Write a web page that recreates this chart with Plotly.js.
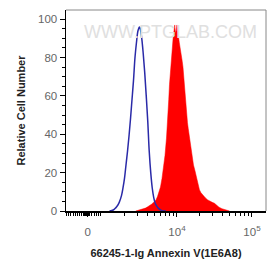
<!DOCTYPE html>
<html><head><meta charset="utf-8">
<script src="https://cdn.plot.ly/plotly-3.0.1.min.js"></script>
<style>html,body{margin:0;padding:0;background:#fff}#c{width:268px;height:259px}</style>
</head><body><div id="c"></div>
<script>
// x positions are in display decades (log10 of intensity; biexponential scale)
const ctrlX = [3.10,3.15,3.18,3.21,3.23,3.26,3.28,3.30,3.32,3.34,3.36,3.38,3.40,3.42,3.44,3.46,3.48,3.50,3.51,3.53,3.55,3.57,3.59,3.61,3.63,3.65,3.67,3.69,3.71,3.73,3.75,3.78,3.80,3.85];
const ctrlY = [0,0.5,1.5,3,4.5,8,12,17,24,31,39,48,58,68,80,88,94,96,95,90,82,72,60,47,31,20,12,7,4,2.5,1.5,0.6,0.2,0];
const annX = [3.45,3.50,3.55,3.58,3.61,3.64,3.66,3.68,3.70,3.72,3.74,3.76,3.78,3.80,3.82,3.84,3.86,3.87,3.88,3.89,3.90,3.91,3.92,3.93,3.94,3.95,3.96,3.97,3.98,3.99,4.00,4.01,4.02,4.03,4.04,4.05,4.06,4.07,4.08,4.09,4.10,4.11,4.12,4.13,4.14,4.15,4.16,4.17,4.18,4.19,4.20,4.22,4.24,4.26,4.28,4.30,4.32,4.35,4.38,4.41,4.44,4.47,4.50,4.53,4.56,4.60,4.65,4.70];
const annY = [0,0.5,1,1.5,2.2,2.8,3.5,4.2,5,5.8,7.5,9.5,12.5,17,22,29,38,43,52,58,66,72,78,83,88,91,94,97,93,94,97,95,91,88,86,83,80,78,75,70,63,57,52,50,46,43,40,37,34,31,28,24,21,17,13,11,9.5,8,6.8,5.8,5,4.5,4,3,2,1.2,0.5,0];
const xTickVals = [2.81,4,5];
const xTickText = ['0','10<sup>4</sup>','10<sup>5</sup>'];
const yTickVals = [0,20,40,60,80,100];

// minor tick positions on the biexponential axis
const minorX = [];
for (let p = 2.53; p < 3.0; p += 0.028) minorX.push(+p.toFixed(3));
[2.76,2.77,2.78,2.79,2.80,2.82,2.83].forEach(v=>minorX.push(v));
for (let d = 3; d <= 4; d++) for (let m = 2; m <= 9; m++) minorX.push(d + Math.log10(m));

const traces = [
  {x: annX, y: annY, type:'scatter', mode:'lines', fill:'tozeroy', fillcolor:'#ff0000',
   line:{color:'#ff0000', width:0.5}, hoverinfo:'skip'},
  {x: ctrlX, y: ctrlY, type:'scatter', mode:'lines', line:{color:'#2a2aa8', width:1.5, shape:'spline'}, hoverinfo:'skip'}
];
const layout = {
  width:268, height:259, margin:{l:66, r:2, t:10, b:48},
  paper_bgcolor:'#fff', plot_bgcolor:'#fff', showlegend:false,
  font:{family:'Arial, Liberation Sans, sans-serif'},
  xaxis:{range:[2.52,5.187], tickmode:'array', tickvals:xTickVals, ticktext:xTickText,
    ticks:'outside', ticklen:4, tickcolor:'#000', tickwidth:1, showgrid:false, zeroline:false,
    showline:true, linecolor:'#000', linewidth:1.5, ticklabelstandoff:6,
    tickfont:{size:11.5, color:'#666'},
    minor:{tickmode:'array', tickvals:minorX, ticks:'outside', ticklen:3, tickcolor:'#000', showgrid:false},
    title:{text:'<b>66245-1-Ig Annexin V(1E6A8)</b>', font:{size:11, color:'#222'}, standoff:19}},
  yaxis:{range:[0,104.8], tickmode:'array', tickvals:yTickVals,
    ticks:'outside', ticklen:5, tickcolor:'#000', showgrid:false, zeroline:false,
    showline:true, linecolor:'#000', linewidth:1.5,
    tickfont:{size:11.5, color:'#666'},
    minor:{dtick:5, ticks:'outside', ticklen:3, tickcolor:'#000', showgrid:false},
    title:{text:'<b>Relative Cell Number</b>', font:{size:11, color:'#222'}, standoff:10}},
  shapes:[
    {type:'line', xref:'paper', yref:'paper', x0:0, x1:1, y0:1, y1:1, line:{color:'#888', width:1}},
    {type:'line', xref:'paper', yref:'paper', x0:1, x1:1, y0:0, y1:1, line:{color:'#888', width:1}}
  ],
  annotations:[
    {text:'WWW.PTGLAB.COM', xref:'paper', yref:'paper', x:0.52, y:0.95, showarrow:false,
     font:{size:18, color:'#e0e0e0', family:'Arial, Liberation Sans, sans-serif'}}
  ]
};
Plotly.newPlot('c', traces, layout, {staticPlot:true, displayModeBar:false});
</script></body></html>
